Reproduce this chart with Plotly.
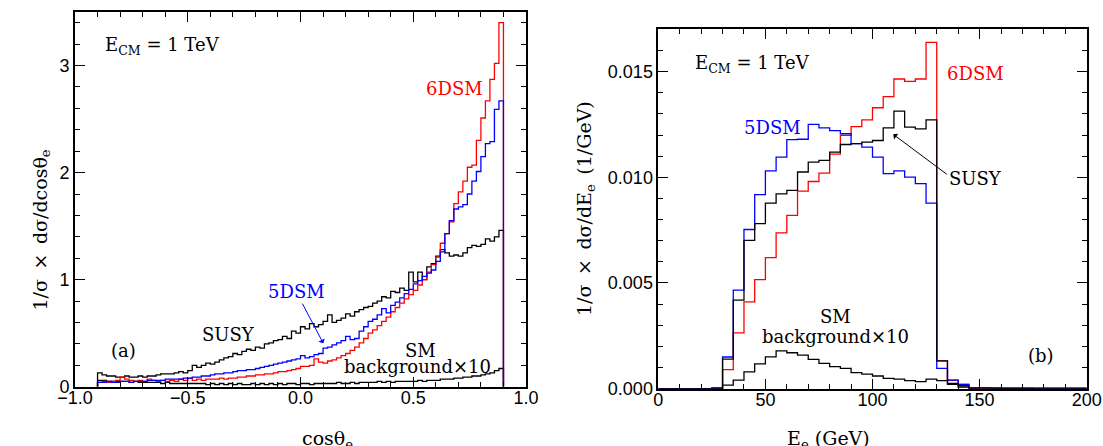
import numpy as np
import plotly.graph_objects as go

# ---------------- data : panel (a)  cos(theta_e), 90 bins of 0.02 from -0.9 to 0.9
cos_lo, cos_hi, cos_nbins = -0.9, 0.9, 90
cos_6dsm = [
    0.04, 0.05, 0.04, 0.05, 0.06, 0.09, 0.07, 0.06, 0.05, 0.06,
    0.05, 0.07, 0.06, 0.05, 0.06, 0.05, 0.06, 0.05, 0.07, 0.06,
    0.08, 0.06, 0.07, 0.06, 0.07, 0.07, 0.07, 0.08, 0.07, 0.08,
    0.08, 0.09, 0.09, 0.10, 0.10, 0.11, 0.11, 0.12, 0.12, 0.13,
    0.14, 0.14, 0.15, 0.16, 0.17, 0.19, 0.19, 0.20, 0.26, 0.23,
    0.22, 0.24, 0.25, 0.27, 0.29, 0.31, 0.34, 0.37, 0.41, 0.45,
    0.50, 0.53, 0.57, 0.61, 0.65, 0.70, 0.74, 0.78, 0.82, 0.86,
    0.90, 0.95, 1.00, 1.07, 1.14, 1.21, 1.34, 1.43, 1.54, 1.71,
    1.82, 1.92, 2.05, 2.07, 2.30, 2.51, 2.67, 2.87, 3.02, 3.40,
]
cos_5dsm = [
    0.04, 0.04, 0.05, 0.04, 0.04, 0.05, 0.05, 0.04, 0.05, 0.05,
    0.05, 0.06, 0.06, 0.06, 0.06, 0.07, 0.07, 0.07, 0.07, 0.08,
    0.08, 0.09, 0.09, 0.10, 0.10, 0.11, 0.12, 0.12, 0.13, 0.13,
    0.14, 0.15, 0.15, 0.16, 0.16, 0.17, 0.18, 0.19, 0.20, 0.21,
    0.22, 0.23, 0.24, 0.25, 0.26, 0.29, 0.27, 0.28, 0.30, 0.31,
    0.36, 0.37, 0.39, 0.41, 0.43, 0.47, 0.44, 0.45, 0.52, 0.56,
    0.61, 0.63, 0.67, 0.73, 0.69, 0.76, 0.79, 0.83, 0.87, 0.91,
    0.96, 0.99, 1.03, 1.06, 1.09, 1.17, 1.26, 1.43, 1.55, 1.66,
    1.68, 1.70, 1.80, 1.92, 2.01, 2.15, 2.27, 2.29, 2.59, 2.67,
]
cos_susy = [
    0.13, 0.11, 0.10, 0.10, 0.09, 0.09, 0.10, 0.09, 0.09, 0.10,
    0.09, 0.10, 0.10, 0.11, 0.12, 0.12, 0.12, 0.13, 0.14, 0.13,
    0.15, 0.20, 0.18, 0.20, 0.22, 0.21, 0.23, 0.25, 0.27, 0.28,
    0.31, 0.30, 0.33, 0.35, 0.34, 0.37, 0.36, 0.40, 0.41, 0.43,
    0.44, 0.47, 0.45, 0.52, 0.50, 0.56, 0.54, 0.59, 0.56, 0.58,
    0.61, 0.67, 0.60, 0.62, 0.64, 0.68, 0.66, 0.70, 0.72, 0.74,
    0.75, 0.78, 0.80, 0.84, 0.83, 0.89, 0.88, 0.92, 0.90, 1.07,
    0.98, 1.07, 1.00, 1.12, 1.15, 1.22, 1.28, 1.25, 1.22, 1.23,
    1.22, 1.25, 1.30, 1.32, 1.31, 1.33, 1.38, 1.36, 1.40, 1.46,
]
cos_smbg10 = [
    0.06, 0.06, 0.05, 0.05, 0.05, 0.05, 0.05, 0.04, 0.05, 0.04,
    0.04, 0.04, 0.04, 0.04, 0.03, 0.04, 0.03, 0.03, 0.03, 0.03,
    0.03, 0.03, 0.03, 0.03, 0.02, 0.03, 0.02, 0.03, 0.02, 0.03,
    0.02, 0.03, 0.02, 0.02, 0.03, 0.02, 0.03, 0.02, 0.03, 0.02,
    0.03, 0.02, 0.03, 0.03, 0.02, 0.03, 0.03, 0.02, 0.03, 0.03,
    0.03, 0.03, 0.03, 0.04, 0.03, 0.03, 0.04, 0.03, 0.04, 0.04,
    0.04, 0.04, 0.05, 0.04, 0.05, 0.04, 0.05, 0.05, 0.05, 0.05,
    0.05, 0.06, 0.05, 0.06, 0.06, 0.06, 0.07, 0.07, 0.07, 0.08,
    0.08, 0.09, 0.09, 0.10, 0.10, 0.11, 0.12, 0.13, 0.15, 0.17,
]

# ---------------- data : panel (b)  E_e (GeV), 40 bins of 5 GeV from 0 to 200
e_lo, e_hi, e_nbins = 0.0, 200.0, 40
e_5dsm = [
    0, 0, 0, 0, 0, 0.00002,
    0.00150, 0.00466, 0.00753, 0.00918, 0.01030, 0.01095, 0.01178, 0.01180,
    0.01250, 0.01234, 0.01221, 0.01206, 0.01159, 0.01143, 0.01095, 0.01017,
    0.01030, 0.01001, 0.00970, 0.00878,
    0.00096, 0.00041, 0.00020,
    0.00004, 0.00004, 0.00003, 0.00003, 0.00003, 0.00003, 0.00002, 0.00002,
    0.00002, 0.00002, 0.00002,
]
e_6dsm = [
    0, 0, 0, 0, 0, 0.00002,
    0.00090, 0.00264, 0.00411, 0.00516, 0.00620, 0.00737, 0.00820, 0.00935,
    0.00980, 0.01020, 0.01110, 0.01198, 0.01240, 0.01272, 0.01329, 0.01382,
    0.01465, 0.01454, 0.01465, 0.01638,
    0.00132, 0.00040, 0.00020,
    0.00003, 0.00003, 0.00003, 0.00002, 0.00002, 0.00002, 0.00002, 0.00001,
    0.00001, 0.00001, 0.00001,
]
e_susy = [
    0, 0, 0, 0, 0, 0.00003,
    0.00140, 0.00419, 0.00702, 0.00781, 0.00878, 0.00922, 0.00938, 0.01025,
    0.01072, 0.01080, 0.01119, 0.01155, 0.01159, 0.01166, 0.01174, 0.01234,
    0.01313, 0.01237, 0.01229, 0.01272,
    0.00132, 0.00025, 0.00015,
    0.00003, 0.00003, 0.00002, 0.00002, 0.00002, 0.00002, 0.00001, 0.00001,
    0.00001, 0.00001, 0.00001,
]
e_smbg10 = [
    0, 0, 0, 0, 0, 0.00003,
    0.00017, 0.00041, 0.00080, 0.00117, 0.00151, 0.00179, 0.00170, 0.00159,
    0.00139, 0.00120, 0.00104, 0.00096, 0.00076, 0.00069, 0.00060, 0.00049,
    0.00045, 0.00038, 0.00033, 0.00045,
    0.00038, 0.00020, 0.00008,
    0.00003, 0.00003, 0.00003, 0.00002, 0.00002, 0.00002, 0.00002, 0.00001,
    0.00001, 0.00001, 0.00001,
]

RED, BLUE, BLACK = "#ff0000", "#0000ff", "#000000"
SERIF = "DejaVu Serif, serif"
SANS = "Liberation Sans, Arial, sans-serif"


def step_xy(lo, hi, nbins, vals):
    edges = np.linspace(lo, hi, nbins + 1)
    v = list(vals)
    x = [edges[0]] + list(edges[:-1]) + [edges[-1], edges[-1]]
    y = [0.0] + v + [v[-1], 0.0]
    return x, y


fig = go.Figure()


def add_hist(lo, hi, n, vals, color, xa, ya, width=1.3):
    x, y = step_xy(lo, hi, n, vals)
    fig.add_trace(go.Scatter(x=x, y=y, mode="lines", line=dict(color=color, width=width, shape="hv"),
                             xaxis=xa, yaxis=ya, showlegend=False, hoverinfo="skip"))


add_hist(cos_lo, cos_hi, cos_nbins, cos_smbg10, BLACK, "x", "y")
add_hist(cos_lo, cos_hi, cos_nbins, cos_susy, BLACK, "x", "y")
add_hist(cos_lo, cos_hi, cos_nbins, cos_6dsm, RED, "x", "y")
add_hist(cos_lo, cos_hi, cos_nbins, cos_5dsm, BLUE, "x", "y")

add_hist(e_lo, e_hi, e_nbins, e_smbg10, BLACK, "x2", "y2")
add_hist(e_lo, e_hi, e_nbins, e_6dsm, RED, "x2", "y2")
add_hist(e_lo, e_hi, e_nbins, e_5dsm, BLUE, "x2", "y2")
add_hist(e_lo, e_hi, e_nbins, e_susy, BLACK, "x2", "y2")

W, H = 1103, 446


def axis_common(rng, dtick, minor_dtick, tickformat, domain, anchor, standoff=0):
    d = dict(range=rng, domain=domain, anchor=anchor, dtick=dtick, tick0=0, automargin=False,
             tickformat=tickformat, ticks="inside", ticklen=10, tickwidth=1.3, tickcolor="black",
             minor=dict(dtick=minor_dtick, ticks="inside", ticklen=5, tickwidth=1.1, tickcolor="black", showgrid=False),
             showline=True, linecolor="black", linewidth=1.6, mirror="allticks",
             showgrid=False, zeroline=False,
             tickfont=dict(family=SANS, size=18, color="black"))
    if standoff:
        d["ticklabelstandoff"] = standoff
    return d


fig.update_layout(
    width=W, height=H, margin=dict(l=0, r=0, t=0, b=0),
    paper_bgcolor="white", plot_bgcolor="white",
    xaxis=axis_common([-1.0, 1.0], 0.5, 0.1, ".1f", [75 / W, 526 / W], "y", standoff=-6),
    yaxis=axis_common([0, 3.5], 1, 0.2, "d", [1 - 386.7 / H, 1 - 12 / H], "x"),
    xaxis2=axis_common([0, 200], 50, 10, "d", [658.3 / W, 1086.7 / W], "y2", standoff=-6),
    yaxis2=axis_common([0, 0.017], 0.005, 0.001, ".3f", [1 - 388.7 / H, 1 - 29.3 / H], "x2"),
)

ann = []


def txt(x, y, s, xref, yref, color="black", size=18, **kw):
    d = dict(x=x, y=y, text=s, xref=xref, yref=yref, showarrow=False,
             font=dict(family=SERIF, size=size, color=color))
    d.update(kw)
    ann.append(d)


ecm = "E<sub>CM</sub> = 1 TeV"
# panel (a)
txt(-0.614, 3.18, ecm, "x", "y")
txt(0.685, 2.79, "6DSM", "x", "y", RED)
txt(-0.017, 0.886, "5DSM", "x", "y", BLUE)
txt(-0.32, 0.49, "SUSY", "x", "y")
txt(-0.786, 0.34, "(a)", "x", "y")
txt(0.53, 0.34, "SM", "x", "y")
txt(0.519, 0.187, "background\u00d710", "x", "y")
ann.append(dict(x=0.101, y=0.405, ax=0.005, ay=0.79, xref="x", yref="y", axref="x", ayref="y",
                showarrow=True, arrowhead=1, arrowsize=1.2, arrowwidth=1, arrowcolor=BLUE, text=""))

# panel (b)
txt(44, 0.01536, ecm, "x2", "y2")
txt(148.2, 0.01492, "6DSM", "x2", "y2", RED)
txt(53.4, 0.01237, "5DSM", "x2", "y2", BLUE)
txt(147.9, 0.00993, "SUSY", "x2", "y2")
txt(82.9, 0.0034, "SM", "x2", "y2")
txt(82.5, 0.00246, "background\u00d710", "x2", "y2")
txt(178.6, 0.00159, "(b)", "x2", "y2")
ann.append(dict(x=109.7, y=0.01203, ax=135.4, ay=0.01009, xref="x2", yref="y2", axref="x2", ayref="y2",
                showarrow=True, arrowhead=1, arrowsize=1.2, arrowwidth=1, arrowcolor=BLACK, text=""))

# axis titles
txt(26 / W, 1 - 230 / H, "1/\u03c3\u2002\u00d7\u2002d\u03c3/dcos\u03b8<sub>e</sub>", "paper", "paper", size=19, textangle=-90)
txt(585 / W, 1 - 209 / H, "1/\u03c3\u2002\u00d7\u2002d\u03c3/dE<sub>e</sub>\u2002(1/GeV)", "paper", "paper", size=19, textangle=-90)
txt(300 / W, 1 - 425 / H, "cos\u03b8<sub>e</sub>", "paper", "paper", size=19, yanchor="top")
txt(872 / W, 1 - 425 / H, "E<sub>e</sub> (GeV)", "paper", "paper", size=19, yanchor="top")

fig.update_layout(annotations=ann)
fig.write_html("out.html")
